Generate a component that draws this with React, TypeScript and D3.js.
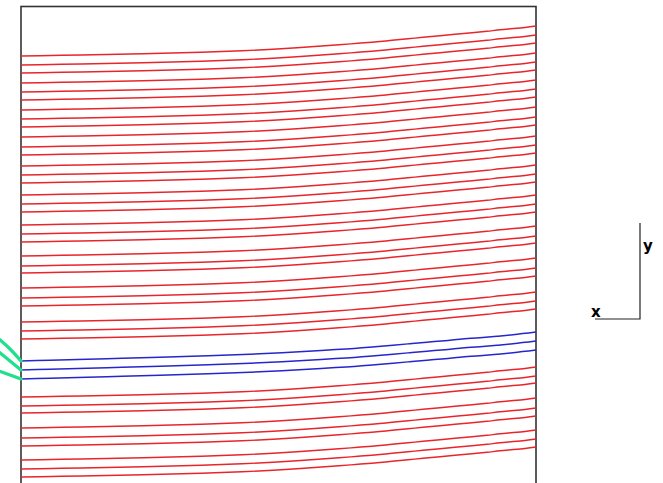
import React, { useEffect, useRef } from 'react';
import * as d3 from 'd3';

// left-edge y position of each red line (groups of three)
const redStart = [
  56, 65, 73, 83, 92, 100, 110, 119, 127, 137, 147, 155,
  166, 175, 183, 195, 204, 212, 225, 234, 242, 256, 266, 273,
  288, 298, 306, 322, 331, 339,
  397, 406, 413, 428, 438, 446, 460, 469, 477,
];
// left-edge y position of the blue lines
const blueStart = [361, 370, 379];

// how far a line has risen at a given distance along the box
const redRiseX = [0, 41, 122, 180, 221, 252, 276, 297, 318, 337, 356, 371, 387, 402, 419, 434, 451, 466, 479, 496, 515];
const redRise = [0, 0.7, 2.2, 3.7, 5.2, 6.7, 8.2, 9.7, 11.2, 12.7, 14.2, 15.7, 17.2, 18.7, 20.2, 21.7, 23.2, 24.7, 26.2, 27.7, 30];
const blueRiseX = [0, 29, 86, 139, 187, 229, 261, 287, 311, 336, 354, 372, 389, 406, 424, 439, 459, 476, 492, 515];
const blueRise = [0, 0.8, 2.3, 3.8, 5.3, 6.8, 8.3, 9.8, 11.3, 12.8, 14.3, 15.8, 17.3, 18.8, 20.3, 21.8, 23.3, 24.8, 26.3, 29];

// inflow curves feeding the blue lines
const greenX = [-22, -11, 0];
const greenY = [
  [339, 349, 361],
  [352, 361, 370],
  [371, 375, 379],
];

const width = 663;
const height = 483;

const App = () => {
  const svgRef = useRef(null);

  useEffect(() => {
    const svg = d3.select(svgRef.current);
    svg.selectAll('*').remove();

    const x = d3.scaleLinear().domain([0, 515]).range([21, 536]);
    const y = d3.scaleLinear().domain([0, 483]).range([0, 483]);

    const line = d3.line<[number, number]>()
      .x(d => x(d[0]))
      .y(d => y(d[1]))
      .curve(d3.curveMonotoneX);

    svg.append('rect')
      .attr('x', x(0))
      .attr('y', y(6.5))
      .attr('width', x(515) - x(0))
      .attr('height', y(500) - y(6.5))
      .attr('fill', 'white')
      .attr('stroke', '#333')
      .attr('stroke-width', 1.6);

    svg.append('g')
      .selectAll('path')
      .data(redStart)
      .enter()
      .append('path')
      .attr('d', s => line(redRiseX.map((rx, i) => [rx, s - redRise[i]])))
      .attr('fill', 'none')
      .attr('stroke', '#e8252b')
      .attr('stroke-width', 1.4);

    svg.append('g')
      .selectAll('path')
      .data(blueStart)
      .enter()
      .append('path')
      .attr('d', s => line(blueRiseX.map((rx, i) => [rx, s - blueRise[i]])))
      .attr('fill', 'none')
      .attr('stroke', '#2626cc')
      .attr('stroke-width', 1.5);

    svg.append('g')
      .selectAll('path')
      .data(greenY)
      .enter()
      .append('path')
      .attr('d', ys => line(greenX.map((gx, i) => [gx, ys[i]])))
      .attr('fill', 'none')
      .attr('stroke', '#1fe08c')
      .attr('stroke-width', 3.2)
      .attr('stroke-linecap', 'round');

    // orientation marker
    const axes = svg.append('g');
    axes.append('path')
      .attr('d', 'M640,223 V319 H595')
      .attr('fill', 'none')
      .attr('stroke', '#222')
      .attr('stroke-width', 1.2);
    axes.append('text')
      .attr('x', 643)
      .attr('y', 251)
      .attr('font-family', 'DejaVu Sans, sans-serif')
      .attr('font-weight', 'bold')
      .attr('font-size', 15)
      .text('y');
    axes.append('text')
      .attr('x', 591)
      .attr('y', 317)
      .attr('font-family', 'DejaVu Sans, sans-serif')
      .attr('font-weight', 'bold')
      .attr('font-size', 15)
      .text('x');
  }, []);

  return (
    <svg
      ref={svgRef}
      width={width}
      height={height}
      style={{ position: 'absolute', left: 0, top: 0, background: 'white' }}
    />
  );
};

export default App;
